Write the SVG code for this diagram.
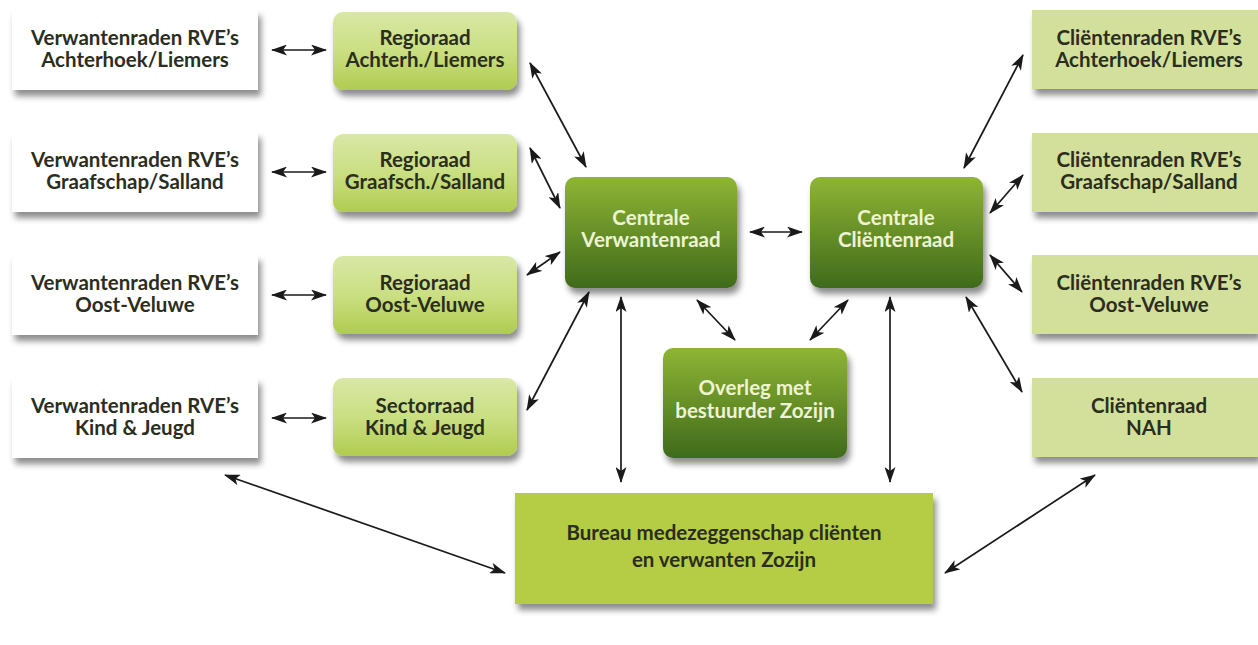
<svg xmlns="http://www.w3.org/2000/svg" width="1258" height="645" viewBox="0 0 1258 645">
<defs>
<filter id="sh" x="-10%" y="-10%" width="125%" height="135%">
<feDropShadow dx="3" dy="6" stdDeviation="3" flood-color="#000" flood-opacity="0.45"/>
</filter>
<linearGradient id="lg" x1="0" y1="0" x2="0" y2="1">
<stop offset="0" stop-color="#d9e8a6"/>
<stop offset="0.5" stop-color="#cadf82"/>
<stop offset="1" stop-color="#b0cc50"/>
</linearGradient>
<linearGradient id="dg" x1="0" y1="0" x2="0" y2="1">
<stop offset="0" stop-color="#8fb534"/>
<stop offset="1" stop-color="#3f6a1c"/>
</linearGradient>
<marker id="ah" viewBox="0 0 16 11" refX="15" refY="5.5" markerWidth="16" markerHeight="11" markerUnits="userSpaceOnUse" orient="auto-start-reverse">
<path d="M0,0 L16,5.5 L0,11 L4,5.5 z" fill="#1a1a1a"/>
</marker>
</defs>
<style>
.t{font-family:Lato,"Open Sans",sans-serif;font-weight:700;font-size:20.5px;text-anchor:middle;fill:#2b2e1e}
.tw{font-family:Lato,"Open Sans",sans-serif;font-weight:700;font-size:20.5px;text-anchor:middle;fill:#eef3d2}
.wb{fill:#ffffff;filter:url(#sh)}
.lg{fill:url(#lg);filter:url(#sh)}
.pg{fill:#d3e09c;filter:url(#sh)}
.dg{fill:url(#dg);filter:url(#sh)}
.bu{fill:#b5cc45;filter:url(#sh)}
.c{stroke:#1a1a1a;stroke-width:1.7;fill:none;marker-start:url(#ah);marker-end:url(#ah)}
</style>
<rect width="1258" height="645" fill="#ffffff"/>

<g id="connectors">
<line class="c" x1="272" y1="50" x2="326" y2="50"/>
<line class="c" x1="272" y1="172" x2="326" y2="172"/>
<line class="c" x1="272" y1="295" x2="326" y2="295"/>
<line class="c" x1="272" y1="418" x2="326" y2="418"/>
<line class="c" x1="530" y1="63" x2="586" y2="167"/>
<line class="c" x1="530" y1="148" x2="560" y2="208"/>
<line class="c" x1="527" y1="275" x2="560" y2="252"/>
<line class="c" x1="527" y1="410" x2="589" y2="292"/>
<line class="c" x1="750" y1="232" x2="802" y2="232"/>
<line class="c" x1="697" y1="300" x2="735" y2="340"/>
<line class="c" x1="848" y1="300" x2="810" y2="340"/>
<line class="c" x1="621" y1="297" x2="621" y2="482"/>
<line class="c" x1="890" y1="297" x2="890" y2="482"/>
<line class="c" x1="964" y1="168" x2="1023" y2="55"/>
<line class="c" x1="990" y1="213" x2="1023" y2="175"/>
<line class="c" x1="990" y1="255" x2="1022" y2="292"/>
<line class="c" x1="966" y1="297" x2="1022" y2="392"/>
<line class="c" x1="225" y1="475" x2="505" y2="573"/>
<line class="c" x1="1095" y1="475" x2="945" y2="573"/>
</g>

<g id="vr1"><rect class="wb" x="12" y="10" width="246" height="80"/><text class="t" x="135" y="45">Verwantenraden RVE’s</text><text class="t" x="135" y="67">Achterhoek/Liemers</text></g>
<g id="vr2"><rect class="wb" x="12" y="132" width="246" height="80"/><text class="t" x="135" y="167">Verwantenraden RVE’s</text><text class="t" x="135" y="189">Graafschap/Salland</text></g>
<g id="vr3"><rect class="wb" x="12" y="255" width="246" height="80"/><text class="t" x="135" y="290">Verwantenraden RVE’s</text><text class="t" x="135" y="312">Oost-Veluwe</text></g>
<g id="vr4"><rect class="wb" x="12" y="378" width="246" height="80"/><text class="t" x="135" y="413">Verwantenraden RVE’s</text><text class="t" x="135" y="435">Kind &amp; Jeugd</text></g>

<g id="rr1"><rect class="lg" x="333" y="12" width="184" height="78" rx="10"/><text class="t" x="425" y="45">Regioraad</text><text class="t" x="425" y="67">Achterh./Liemers</text></g>
<g id="rr2"><rect class="lg" x="333" y="134" width="184" height="78" rx="10"/><text class="t" x="425" y="167">Regioraad</text><text class="t" x="425" y="189">Graafsch./Salland</text></g>
<g id="rr3"><rect class="lg" x="333" y="256" width="184" height="78" rx="10"/><text class="t" x="425" y="290">Regioraad</text><text class="t" x="425" y="312">Oost-Veluwe</text></g>
<g id="sr"><rect class="lg" x="333" y="378" width="184" height="78" rx="10"/><text class="t" x="425" y="413">Sectorraad</text><text class="t" x="425" y="435">Kind &amp; Jeugd</text></g>

<g id="cv"><rect class="dg" x="565" y="177" width="172" height="111" rx="10"/><text class="tw" x="651" y="225">Centrale</text><text class="tw" x="651" y="247">Verwantenraad</text></g>
<g id="cc"><rect class="dg" x="810" y="177" width="173" height="111" rx="10"/><text class="tw" x="896" y="225">Centrale</text><text class="tw" x="896" y="247">Cliëntenraad</text></g>
<g id="ov"><rect class="dg" x="663" y="348" width="184" height="110" rx="10"/><text class="tw" x="755" y="395">Overleg met</text><text class="tw" x="755" y="418">bestuurder Zozijn</text></g>

<g id="bu"><rect class="bu" x="515" y="493" width="418" height="111"/><text class="t" x="724" y="540">Bureau medezeggenschap cliënten</text><text class="t" x="724" y="567">en verwanten Zozijn</text></g>

<g id="cr1"><rect class="pg" x="1032" y="10" width="226" height="79"/><text class="t" x="1149" y="45">Cliëntenraden RVE’s</text><text class="t" x="1149" y="67">Achterhoek/Liemers</text></g>
<g id="cr2"><rect class="pg" x="1032" y="133" width="226" height="79"/><text class="t" x="1149" y="167">Cliëntenraden RVE’s</text><text class="t" x="1149" y="189">Graafschap/Salland</text></g>
<g id="cr3"><rect class="pg" x="1032" y="255" width="226" height="79"/><text class="t" x="1149" y="290">Cliëntenraden RVE’s</text><text class="t" x="1149" y="312">Oost-Veluwe</text></g>
<g id="cr4"><rect class="pg" x="1032" y="378" width="226" height="79"/><text class="t" x="1149" y="413">Cliëntenraad</text><text class="t" x="1149" y="435">NAH</text></g>
</svg>
